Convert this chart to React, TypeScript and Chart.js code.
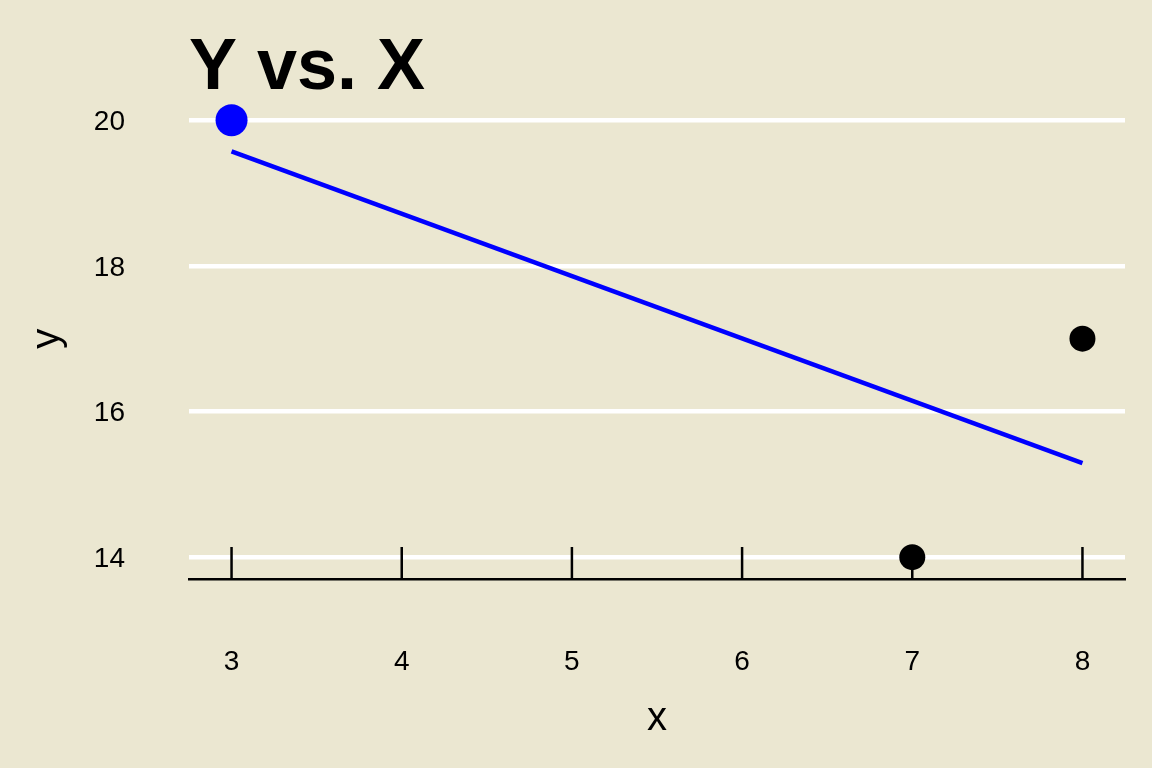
import React, { useEffect, useRef } from "react";
import { Chart, registerables } from "chart.js";

Chart.register(...registerables);

const titleText = "Y vs. X";
const xAxisTitle = "x";
const yAxisTitle = "y";
const xTicks = [3, 4, 5, 6, 7, 8];
const yTicks = [14, 16, 18, 20];
const blackX = [7, 8];
const blackY = [14, 17];
const blueX = [3];
const blueY = [20];
const fitX = [3, 8];
const fitY = [19.57, 15.29];

const BG = "#EBE7D1";
const FONT = "'Liberation Sans', Arial, Helvetica, sans-serif";

const inwardTicks = {
  id: "inwardTicks",
  beforeDatasetsDraw(chart: any) {
    const xs = chart.scales.x;
    const ctx = chart.ctx;
    const bottom = chart.chartArea.bottom;
    ctx.save();
    ctx.strokeStyle = "#000";
    ctx.lineWidth = 2.5;
    xTicks.forEach((v) => {
      const px = xs.getPixelForValue(v);
      ctx.beginPath();
      ctx.moveTo(px, bottom);
      ctx.lineTo(px, bottom - 32);
      ctx.stroke();
    });
    ctx.restore();
  },
};

export default function App() {
  const ref = useRef<HTMLCanvasElement | null>(null);
  useEffect(() => {
    if (!ref.current) return;
    const chart = new Chart(ref.current, {
      type: "scatter",
      data: {
        datasets: [
          {
            label: "fit",
            data: fitX.map((x, i) => ({ x, y: fitY[i] })),
            showLine: true,
            borderColor: "#0000FF",
            borderWidth: 4.5,
            pointRadius: 0,
            order: 3,
          },
          {
            label: "points",
            data: blackX.map((x, i) => ({ x, y: blackY[i] })),
            backgroundColor: "#000",
            borderColor: "#000",
            pointRadius: 13,
            borderWidth: 0,
            order: 2,
          },
          {
            label: "highlight",
            data: blueX.map((x, i) => ({ x, y: blueY[i] })),
            backgroundColor: "#0000FF",
            borderColor: "#0000FF",
            pointRadius: 16,
            borderWidth: 0,
            order: 1,
          },
        ],
      },
      options: {
        animation: false,
        responsive: false,
        maintainAspectRatio: false,
        events: [],
        layout: { padding: { top: 0, left: 0, right: 27, bottom: 0 } },
        plugins: {
          legend: { display: false },
          tooltip: { enabled: false },
          title: {
            display: true,
            text: titleText,
            align: "start",
            fullSize: false,
            color: "#000",
            font: { family: FONT, size: 72, weight: "bold", lineHeight: 0.8 },
            padding: { top: 40.7, bottom: 0 },
          },
        },
        scales: {
          x: {
            type: "linear",
            min: 2.75,
            max: 8.25,
            afterBuildTicks: (s: any) => {
              s.ticks = xTicks.map((v) => ({ value: v }));
            },
            afterFit: (s: any) => {
              s.height = 768 - 579;
              s.paddingLeft = 0;
              s.paddingRight = 0;
            },
            grid: { display: false, drawTicks: false },
            border: { display: true, color: "#000", width: 2.5 },
            ticks: {
              color: "#000",
              font: { family: FONT, size: 28 },
              padding: 66,
              maxRotation: 0,
            },
            title: {
              display: true,
              text: xAxisTitle,
              color: "#000",
              font: { family: FONT, size: 40 },
              padding: { top: 0, bottom: 25 },
            },
          },
          y: {
            type: "linear",
            min: 13.7,
            max: 20.3,
            afterBuildTicks: (s: any) => {
              s.ticks = yTicks.map((v) => ({ value: v }));
            },
            afterFit: (s: any) => {
              s.width = 189;
              s.paddingTop = 0;
              s.paddingBottom = 0;
            },
            grid: { display: true, color: "#FFFFFF", lineWidth: 4.5, drawTicks: false },
            border: { display: false },
            ticks: {
              color: "#000",
              font: { family: FONT, size: 28 },
              padding: 64,
              labelOffset: 2,
            },
            title: {
              display: true,
              text: yAxisTitle,
              color: "#000",
              font: { family: FONT, size: 40 },
              padding: { top: 24, bottom: 0 },
            },
          },
        },
      },
      plugins: [inwardTicks],
    });
    return () => chart.destroy();
  }, []);
  return (
    <div
      style={{
        position: "fixed",
        left: 0,
        top: 0,
        width: 1152,
        height: 768,
        background: BG,
      }}
    >
      <canvas ref={ref} width={1152} height={768} style={{ display: "block" }} />
    </div>
  );
}
